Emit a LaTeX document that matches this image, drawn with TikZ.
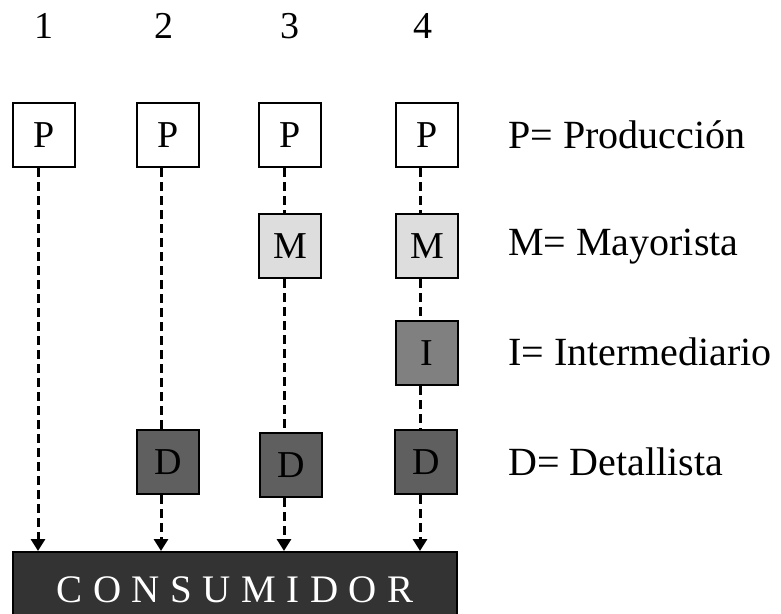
\documentclass[tikz,border=0pt]{standalone}
\usepackage{fontspec}
\setmainfont{Liberation Serif}
\usetikzlibrary{arrows.meta}
\definecolor{mgray}{HTML}{DDDDDD}
\definecolor{igray}{HTML}{808080}
\definecolor{dgray}{HTML}{5F5F5F}
\definecolor{cgray}{HTML}{333333}
\begin{document}
\begin{tikzpicture}[x=1pt,y=-1pt,
  box/.style={draw=black,line width=2pt,minimum width=62pt,minimum height=64pt,inner sep=0pt,font=\fontsize{38}{40}\selectfont},
  num/.style={font=\fontsize{38}{40}\selectfont,anchor=base},
  legend/.style={font=\fontsize{40}{44}\selectfont,anchor=base west,inner sep=0pt},
  flow/.style={line width=3pt,dash pattern=on 9pt off 5pt},
  flowarrow/.style={flow,-{Triangle[width=14pt,length=12pt]}}]
\useasboundingbox (0,0) rectangle (781,613);
% column numbers
\node[num] (n1) at (44,38) {1};
\node[num] (n2) at (164,38) {2};
\node[num] (n3) at (290,38) {3};
\node[num] (n4) at (423,38) {4};
% column line positions
\coordinate (c1) at (38,0);
\coordinate (c2) at (161,0);
\coordinate (c3) at (284,0);
\coordinate (c4) at (420,0);
% P row
\node[box] (p1) at (44,135) {P};
\node[box] (p2) at (168,135) {P};
\node[box] (p3) at (290,135) {P};
\node[box] (p4) at (427,135) {P};
% M row
\node[box,fill=mgray] (m3) at (290,246) {M};
\node[box,fill=mgray] (m4) at (427,246) {M};
% I
\node[box,fill=igray] (i4) at (427,353) {I};
% D row
\node[box,fill=dgray] (d2) at (168,462) {D};
\node[box,fill=dgray] (d3) at (291,465) {D};
\node[box,fill=dgray] (d4) at (426,462) {D};
% consumer
\node[draw=black,line width=2pt,fill=cgray,minimum width=444pt,minimum height=76pt,inner sep=0pt,
  font=\fontsize{39}{42}\selectfont\addfontfeature{LetterSpace=27},text=white] (cons) at (235,590) {CONSUMIDOR};
% legend
\node[legend] (lp) at (508,148) {P= Producción};
\node[legend] (lm) at (508,255) {M= Mayorista};
\node[legend] (li) at (508,365) {I= Intermediario};
\node[legend] (ld) at (508,475) {D= Detallista};
% connectors
\draw[flowarrow] (p1.south -| c1) -- (cons.north -| c1);
\draw[flow] (p2.south -| c2) -- (d2.north -| c2);
\draw[flowarrow] (d2.south -| c2) -- (cons.north -| c2);
\draw[flow] (p3.south -| c3) -- (m3.north -| c3);
\draw[flow] (m3.south -| c3) -- (d3.north -| c3);
\draw[flowarrow] (d3.south -| c3) -- (cons.north -| c3);
\draw[flow] (p4.south -| c4) -- (m4.north -| c4);
\draw[flow] (m4.south -| c4) -- (i4.north -| c4);
\draw[flow] (i4.south -| c4) -- (d4.north -| c4);
\draw[flowarrow] (d4.south -| c4) -- (cons.north -| c4);
\end{tikzpicture}
\end{document}
